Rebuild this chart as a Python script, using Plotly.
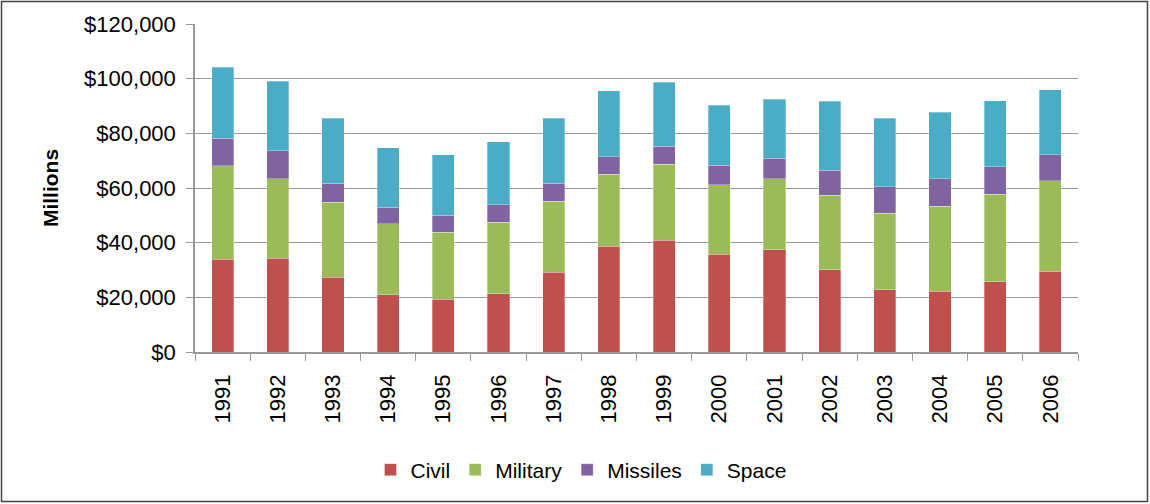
import plotly.graph_objects as go

years = ["1991", "1992", "1993", "1994", "1995", "1996", "1997", "1998",
         "1999", "2000", "2001", "2002", "2003", "2004", "2005", "2006"]
civil = [34000, 34300, 27400, 21000, 19300, 21400, 29200, 38700,
         40800, 35700, 37400, 30100, 22700, 22200, 25700, 29600]
military = [34200, 29100, 27300, 25900, 24600, 26000, 26000, 26400,
            27800, 25500, 26000, 27200, 28100, 31200, 32000, 33000]
missiles = [10000, 10200, 7000, 6100, 6200, 6500, 6500, 6300,
            6600, 7100, 7400, 9200, 9600, 10000, 10000, 9500]
space = [26000, 25400, 23800, 21800, 22000, 23000, 23800, 24200,
         23400, 22000, 21700, 25200, 25100, 24300, 24300, 23800]
y_ticks = [0, 20000, 40000, 60000, 80000, 100000, 120000]
y_tick_labels = ["$0", "$20,000", "$40,000", "$60,000", "$80,000",
                 "$100,000", "$120,000"]

series = [("Civil", civil, "#C0504D"),
          ("Military", military, "#9BBB59"),
          ("Missiles", missiles, "#8064A2"),
          ("Space", space, "#4BACC6")]

fig = go.Figure()
for name, vals, col in series:
    fig.add_trace(go.Bar(x=years, y=vals, name=name,
                         marker=dict(color=col, line=dict(color="rgba(255,255,255,0.5)", width=0.6))))

FONT = "Liberation Sans, Arial, sans-serif"
L, R, T, B = 195, 72, 24, 152
W, H = 1150, 504
pw, ph = W - L - R, H - T - B

def px2paper_x(px):
    return (px - L) / pw

def px2paper_y(py):
    return (H - B - py) / ph

fig.update_layout(
    barmode="stack",
    bargap=0.6,
    width=W, height=H,
    margin=dict(l=L, r=R, t=T, b=B, autoexpand=False),
    paper_bgcolor="white",
    plot_bgcolor="white",
    font=dict(family=FONT, size=22, color="black"),
    showlegend=True,
    legend=dict(orientation="h", x=px2paper_x(581), xanchor="center",
                y=px2paper_y(470), yanchor="middle",
                font=dict(size=21, color="black"), traceorder="normal",
                itemwidth=30),
    xaxis=dict(type="category", showgrid=False, showline=True,
               linecolor="#999999", linewidth=1.5,
               ticks="outside", tickson="boundaries", ticklen=7,
               tickcolor="#999999", tickangle=-90,
               ticklabelstandoff=12,
               tickfont=dict(size=22, family=FONT, color="black")),
    yaxis=dict(range=[0, 120000], tickvals=y_ticks, ticktext=y_tick_labels,
               showgrid=True, gridcolor="#999999",
               gridwidth=1.2, showline=True, linecolor="#999999",
               linewidth=1.5, ticks="outside", ticklen=7,
               tickcolor="#999999", zeroline=False,
               ticklabelstandoff=6,
               tickfont=dict(size=22, family=FONT, color="black"),
               title=dict(text="<b>Millions</b>", standoff=20,
                          font=dict(size=21, family=FONT, color="black"))),
    shapes=[dict(type="rect", xref="paper", yref="paper",
                 x0=px2paper_x(1.5), x1=px2paper_x(1147.5),
                 y0=px2paper_y(501.5), y1=px2paper_y(1.5),
                 line=dict(color="#444444", width=1.5), layer="above")],
)

fig.write_html("out.html", config={"displayModeBar": False},
               post_script="document.body.style.margin='0';document.body.style.padding='0';")
